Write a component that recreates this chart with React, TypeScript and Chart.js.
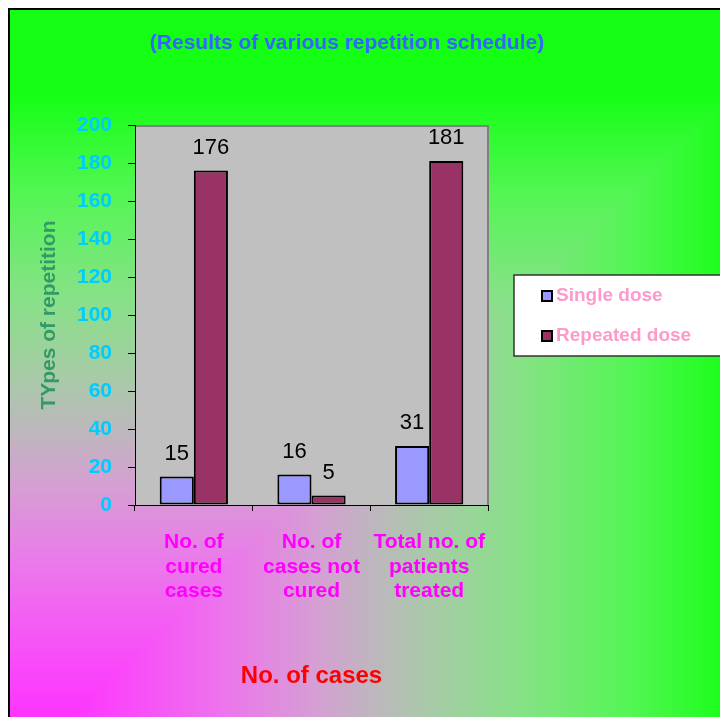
import React, { useEffect, useRef } from "react";
import { Chart, registerables } from "chart.js";

Chart.register(...registerables);

const chartTitle = "(Results of various repetition schedule)";
const categories = [
  ["No. of", "cured", "cases"],
  ["No. of", "cases not", "cured"],
  ["Total no. of", "patients", "treated"],
];
const seriesNames = ["Single dose", "Repeated dose"];
const singleDose = [15, 16, 31];
const repeatedDose = [176, 5, 181];
const yMin = 0;
const yMax = 200;
const yStep = 20;
const xTitle = "No. of cases";
const yTitle = "TYpes of repetition";

const FONT = 'Arial, "Liberation Sans", sans-serif';
const W = 712;
const H = 709;

const stops: [number, number[]][] = [
  [0, [255, 30, 255]],
  [0.15, [250, 70, 250]],
  [0.3, [236, 118, 236]],
  [0.42, [214, 158, 212]],
  [0.5, [190, 182, 190]],
  [0.58, [168, 202, 168]],
  [0.7, [135, 225, 135]],
  [0.85, [85, 245, 85]],
  [1, [20, 255, 20]],
];

function colorAt(t: number) {
  if (t <= 0) return stops[0][1];
  if (t >= 1) return stops[stops.length - 1][1];
  for (let i = 1; i < stops.length; i++) {
    if (t <= stops[i][0]) {
      const [t0, c0] = stops[i - 1];
      const [t1, c1] = stops[i];
      const f = (t - t0) / (t1 - t0);
      return [0, 1, 2].map((k) => c0[k] + (c1[k] - c0[k]) * f);
    }
  }
  return stops[stops.length - 1][1];
}

let bgCache: ImageData | null = null;

const backgroundPlugin = {
  id: "bgPlugin",
  beforeDraw(chart: any) {
    const ctx = chart.ctx as CanvasRenderingContext2D;
    const w = chart.width;
    const h = chart.height;
    if (!bgCache || bgCache.width !== w || bgCache.height !== h) {
      const img = ctx.createImageData(w, h);
      const Wx = 728;
      const Hc = 765;
      const Hy = 680;
      for (let y = 0; y < h; y++) {
        for (let x = 0; x < w; x++) {
          const t = Math.max(x / Wx, (Hc - y) / Hy);
          const c = colorAt(t);
          const i = (y * w + x) * 4;
          img.data[i] = c[0];
          img.data[i + 1] = c[1];
          img.data[i + 2] = c[2];
          img.data[i + 3] = 255;
        }
      }
      bgCache = img;
    }
    ctx.putImageData(bgCache, 0, 0);
    ctx.save();
    ctx.fillStyle = "#000";
    ctx.fillRect(0, 0, 2, h);
    ctx.fillRect(0, 0, w, 2);
    // plot area
    const a = chart.chartArea;
    ctx.fillStyle = "#c0c0c0";
    ctx.fillRect(a.left, a.top, a.right - a.left, a.bottom - a.top);
    ctx.strokeStyle = "#808080";
    ctx.lineWidth = 2;
    ctx.beginPath();
    ctx.moveTo(a.left, a.top + 1);
    ctx.lineTo(a.right, a.top + 1);
    ctx.lineTo(a.right, a.bottom);
    ctx.stroke();
    // title
    ctx.fillStyle = "#3366ff";
    ctx.font = `bold 21px ${FONT}`;
    ctx.textAlign = "center";
    ctx.textBaseline = "middle";
    ctx.fillText(chartTitle, 339, 35);
    ctx.restore();
  },
  afterDatasetsDraw(chart: any) {
    const ctx = chart.ctx as CanvasRenderingContext2D;
    ctx.save();
    ctx.fillStyle = "#000";
    ctx.font = `22px ${FONT}`;
    ctx.textAlign = "center";
    ctx.textBaseline = "alphabetic";
    chart.data.datasets.forEach((ds: any, di: number) => {
      const meta = chart.getDatasetMeta(di);
      meta.data.forEach((el: any, i: number) => {
        ctx.fillText(String(ds.data[i]), el.x, el.y - 17);
      });
    });
    ctx.restore();
  },
  afterDraw(chart: any) {
    const ctx = chart.ctx as CanvasRenderingContext2D;
    ctx.save();
    const bx = 506;
    const by = 267;
    const bw = 230;
    const bh = 81;
    ctx.fillStyle = "#ffffff";
    ctx.fillRect(bx, by, bw, bh);
    ctx.strokeStyle = "#333333";
    ctx.lineWidth = 1.5;
    ctx.strokeRect(bx, by, bw, bh);
    ctx.font = `bold 19px ${FONT}`;
    ctx.textAlign = "left";
    ctx.textBaseline = "middle";
    chart.data.datasets.forEach((ds: any, di: number) => {
      const cy = by + 21 + di * 40;
      ctx.fillStyle = ds.backgroundColor;
      ctx.fillRect(534, cy - 5, 10, 10);
      ctx.strokeStyle = "#000";
      ctx.lineWidth = 2;
      ctx.strokeRect(534, cy - 5, 10, 10);
      ctx.fillStyle = "#ff99cc";
      ctx.fillText(ds.label, 548, cy);
    });
    ctx.restore();
  },
};

export default function App() {
  const ref = useRef<HTMLCanvasElement>(null);
  useEffect(() => {
    if (!ref.current) return;
    const chart = new Chart(ref.current, {
      type: "bar",
      data: {
        labels: categories,
        datasets: [
          {
            label: seriesNames[0],
            data: singleDose,
            backgroundColor: "#9999ff",
            borderColor: "#000000",
            borderWidth: 2,
            borderSkipped: false,
          },
          {
            label: seriesNames[1],
            data: repeatedDose,
            backgroundColor: "#993366",
            borderColor: "#000000",
            borderWidth: 2,
            borderSkipped: false,
          },
        ],
      },
      options: {
        responsive: false,
        animation: false,
        events: [],
        layout: { padding: { top: 117, right: 232, bottom: 0, left: 0 } },
        datasets: { bar: { categoryPercentage: 0.58, barPercentage: 1 } },
        plugins: {
          legend: { display: false },
          title: { display: false },
          tooltip: { enabled: false },
        },
        scales: {
          x: {
            grid: {
              display: true,
              drawOnChartArea: false,
              drawTicks: true,
              tickLength: 6,
              color: "#000",
              offset: true,
            },
            border: { display: true, color: "#000", width: 1 },
            ticks: {
              color: "#ff00ff",
              font: { family: FONT, size: 21, weight: "bold", lineHeight: 1.1667 },
              padding: 19,
              maxRotation: 0,
              autoSkip: false,
            },
            title: {
              display: true,
              text: xTitle,
              color: "#ff0000",
              font: { family: FONT, size: 24, weight: "bold", lineHeight: 1 },
              padding: { top: 0, bottom: 29 },
            },
            afterFit: (s: any) => {
              s.height = 212;
            },
          },
          y: {
            min: yMin,
            max: yMax,
            grid: {
              display: true,
              drawOnChartArea: false,
              drawTicks: true,
              tickLength: 7,
              color: "#000",
            },
            border: { display: true, color: "#000", width: 1 },
            ticks: {
              stepSize: yStep,
              color: "#00ccff",
              font: { family: FONT, size: 21, weight: "bold" },
              padding: 16,
            },
            title: {
              display: true,
              text: yTitle,
              color: "#339966",
              font: { family: FONT, size: 21, weight: "bold", lineHeight: 1 },
              padding: { top: 31, bottom: 0 },
            },
            afterFit: (s: any) => {
              s.width = 127;
            },
          },
        },
      },
      plugins: [backgroundPlugin],
    } as any);
    return () => chart.destroy();
  }, []);
  return (
    <div style={{ position: "fixed", left: 8, top: 8, width: W, height: H }}>
      <canvas ref={ref} width={W} height={H} style={{ display: "block" }} />
    </div>
  );
}
